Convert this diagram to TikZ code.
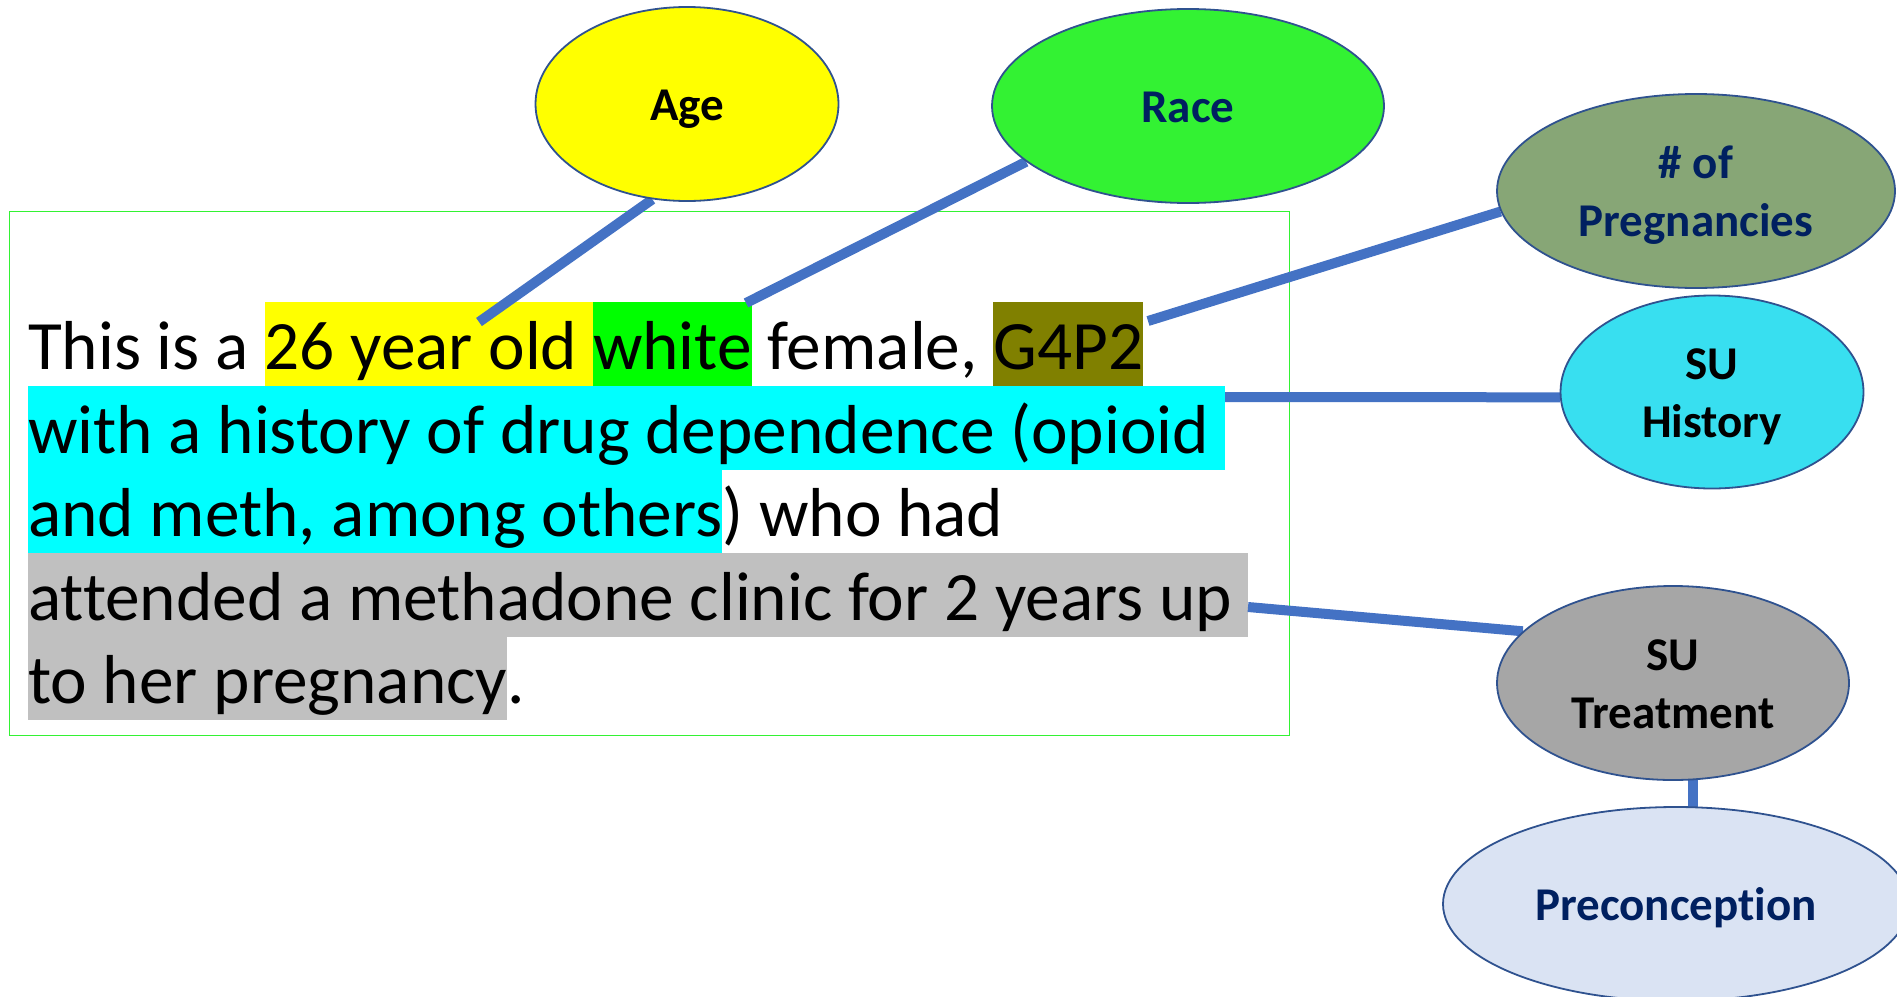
\documentclass[tikz,border=0pt]{standalone}
\usepackage{fontspec}
\setmainfont{Carlito}[Ligatures=NoCommon]
\usetikzlibrary{shapes.geometric}
\pgfdeclarelayer{background}
\pgfdeclarelayer{links}
\pgfsetlayers{background,links,main}

\definecolor{hlyellow}{HTML}{FFFF00}
\definecolor{hlgreen}{HTML}{00FF00}
\definecolor{hlolive}{HTML}{808000}
\definecolor{hlcyan}{HTML}{00FFFF}
\definecolor{hlgray}{HTML}{C0C0C0}
\definecolor{linkblue}{HTML}{4472C4}
\definecolor{rimblue}{HTML}{2F528F}
\definecolor{navy}{HTML}{002060}
\definecolor{boxgreen}{HTML}{33F233}
\definecolor{agefill}{HTML}{FFFF00}
\definecolor{racefill}{HTML}{33F233}
\definecolor{pregfill}{HTML}{87A676}
\definecolor{histfill}{HTML}{38DFF0}
\definecolor{treatfill}{HTML}{A6A6A6}
\definecolor{preconfill}{HTML}{DAE3F3}

% highlighted run of text, one line high
\newcommand\hlt[2]{{\setlength{\fboxsep}{0pt}\colorbox{#1}{\rule[-16.5pt]{0pt}{84pt}#2}}}
% two centred lines, set a little below the middle of the bubble
\newcommand\twolines[2]{\raisebox{-4.7pt}[\height][\depth]{\begin{tabular}{@{}c@{}}#1\\#2\end{tabular}}}

\tikzset{
  bubble/.style={ellipse, draw=rimblue, line width=1.8pt, inner sep=0pt,
    align=center, font=\fontsize{47}{58}\selectfont\bfseries,
    execute at begin node={\rule{0pt}{44.4pt}},
    execute at end node={\rule[-11pt]{0pt}{0pt}}},
  bodyline/.style={anchor=base west, inner sep=0pt,
    font=\fontsize{69.3}{84}\selectfont},
  link/.style={draw=linkblue, line width=10pt},
}

\begin{document}
\begin{tikzpicture}[x={(1pt,0)}, y={(0,-1pt)}]
\useasboundingbox (0,0) rectangle (1897,996);

% attribute bubbles
\node[bubble, fill=agefill, minimum width=303pt, minimum height=194pt] (age) at (687,104) {Age};
\node[bubble, fill=racefill, text=navy, minimum width=392pt, minimum height=194pt] (race) at (1188,106) {Race};
\node[bubble, fill=pregfill, text=navy, minimum width=398pt, minimum height=194pt] (preg) at (1696,191) {\twolines{\# of}{Pregnancies}};
\node[bubble, fill=histfill, minimum width=303pt, minimum height=193pt] (hist) at (1712,392) {\twolines{SU}{History}};
\node[bubble, fill=treatfill, minimum width=352pt, minimum height=194pt] (treat) at (1673,683) {\twolines{SU}{Treatment}};
\node[bubble, fill=preconfill, text=navy, minimum width=466pt, minimum height=194pt] (precon) at (1676,904) {Preconception};

% case description
\begin{pgfonlayer}{background}
\node[draw=boxgreen, line width=1.6pt, minimum width=1280pt, minimum height=524pt, inner sep=0pt] (casebox) at (649.5,473.5) {};
\node[bodyline] (l1) at (28,369.5) {This is a \hlt{hlyellow}{26 year old\ }\hlt{hlgreen}{white} female, \hlt{hlolive}{G4P2}};
\node[bodyline] (l2) at (28,453.1) {\hlt{hlcyan}{with a history of drug dependence (opioid\ }};
\node[bodyline] (l3) at (28,536.7) {\hlt{hlcyan}{and meth, among others}) who had};
\node[bodyline] (l4) at (28,620.3) {\hlt{hlgray}{attended a methadone clinic for 2 years up\ }};
\node[bodyline] (l5) at (28,703.9) {\hlt{hlgray}{to her pregnancy}.};
\end{pgfonlayer}

% link start points inside the text
\coordinate (pAge) at (479,322);
\coordinate (pRace) at (746,303);
\coordinate (pPreg) at (1148,321);
\coordinate (pHist) at (1225,397);
\coordinate (pTreat) at (1248,607);

\begin{pgfonlayer}{links}
\draw[link] (pAge) -- (age.250);
\draw[link] (pRace) -- (race.199.6);
\draw[link] (pPreg) -- (preg.186.4);
\draw[link] (pHist) -- (hist.182.3);
\draw[link] (pTreat) -- (treat.161.6);
\draw[link] ([xshift=20pt]treat.center) -- ([xshift=17pt]precon.center);
\end{pgfonlayer}
\end{tikzpicture}
\end{document}
